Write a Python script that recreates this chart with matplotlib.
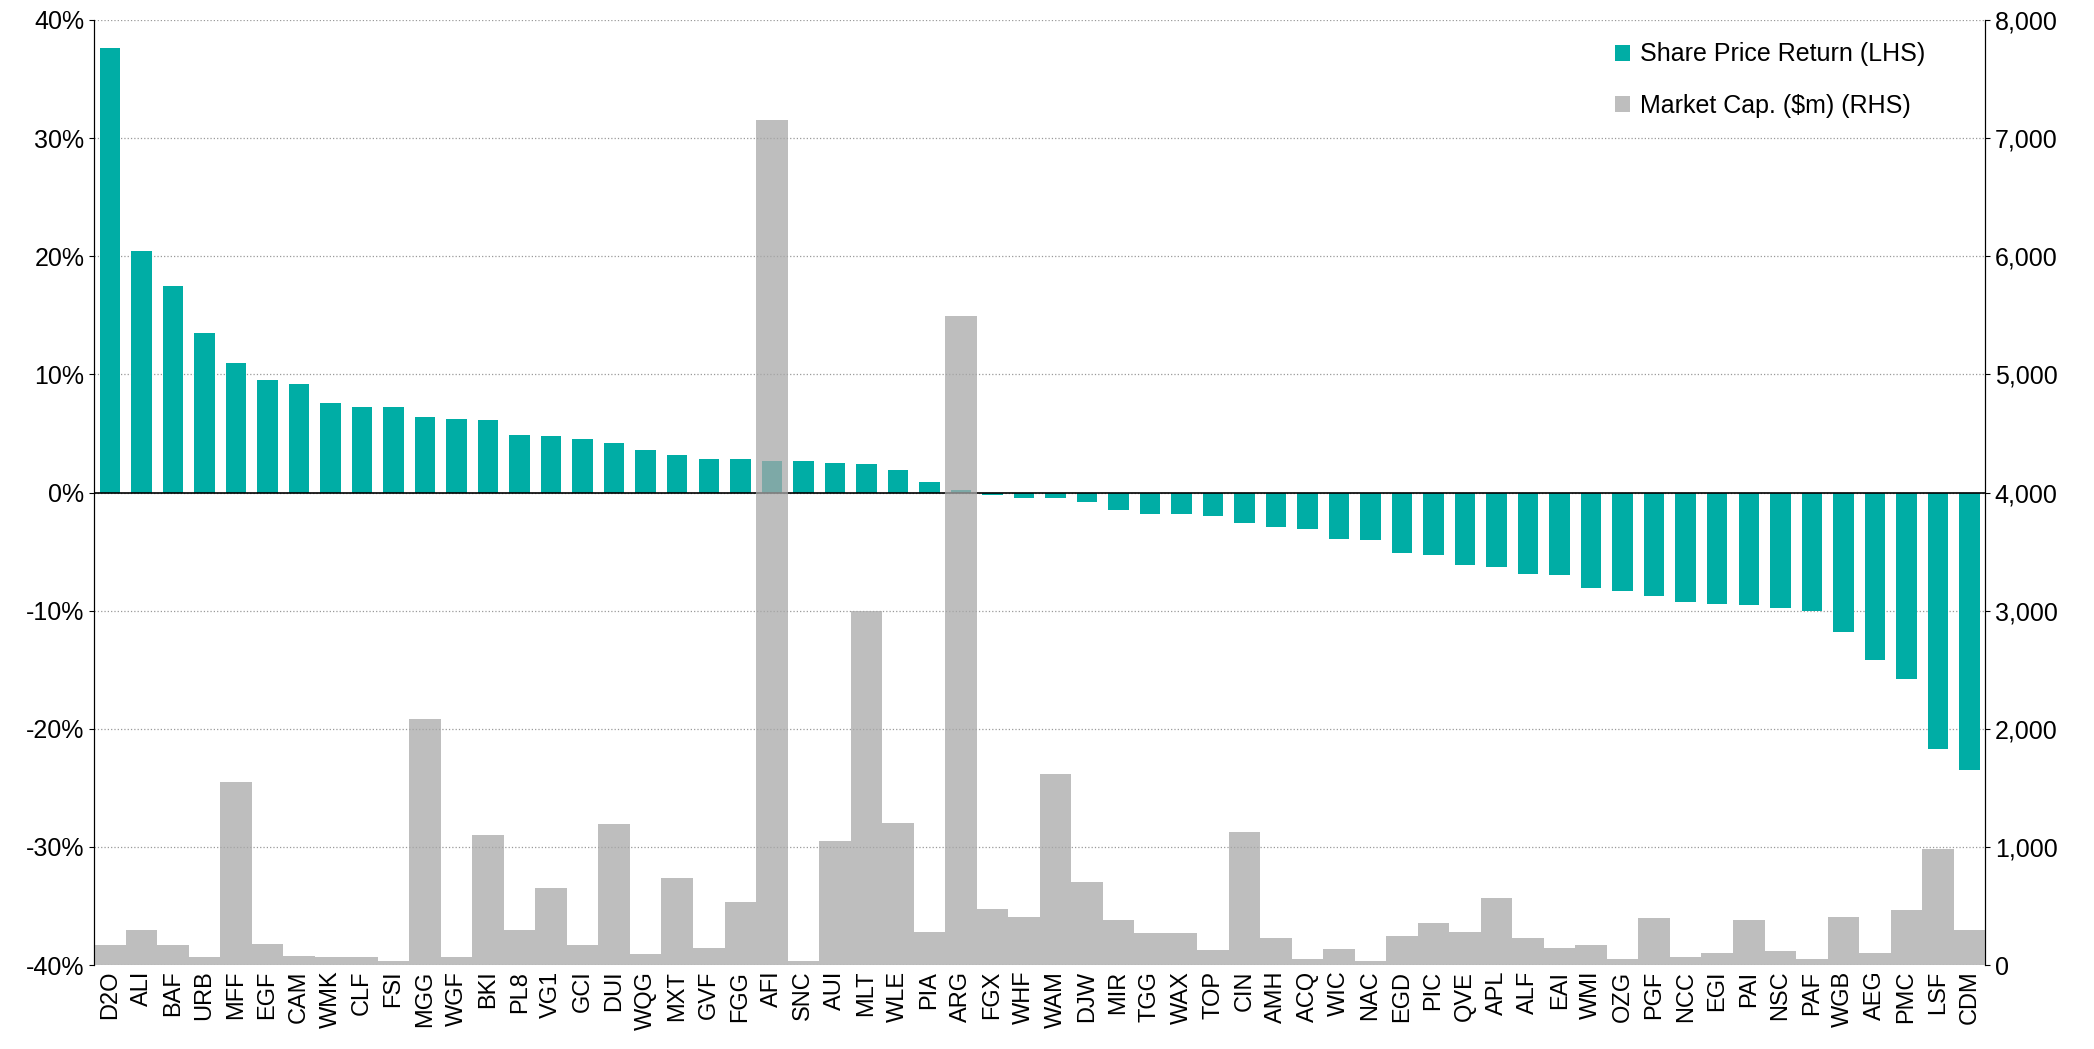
import numpy as np
import matplotlib.pyplot as plt
from matplotlib.ticker import FuncFormatter

plt.rcParams['font.family'] = ['Liberation Sans', 'DejaVu Sans']

tickers = ["D2O", "ALI", "BAF", "URB", "MFF", "EGF", "CAM", "WMK", "CLF", "FSI",
           "MGG", "WGF", "BKI", "PL8", "VG1", "GCI", "DUI", "WQG", "MXT", "GVF",
           "FGG", "AFI", "SNC", "AUI", "MLT", "WLE", "PIA", "ARG", "FGX", "WHF",
           "WAM", "DJW", "MIR", "TGG", "WAX", "TOP", "CIN", "AMH", "ACQ", "WIC",
           "NAC", "EGD", "PIC", "QVE", "APL", "ALF", "EAI", "WMI", "OZG", "PGF",
           "NCC", "EGI", "PAI", "NSC", "PAF", "WGB", "AEG", "PMC", "LSF", "CDM"]
share_return = [37.6, 20.4, 17.5, 13.5, 11.0, 9.5, 9.2, 7.6, 7.2, 7.2,
                6.4, 6.2, 6.1, 4.9, 4.8, 4.5, 4.2, 3.6, 3.2, 2.8,
                2.8, 2.7, 2.7, 2.5, 2.4, 1.9, 0.9, 0.2, -0.2, -0.5,
                -0.5, -0.8, -1.5, -1.8, -1.8, -2.0, -2.6, -2.9, -3.1, -3.9,
                -4.0, -5.1, -5.3, -6.1, -6.3, -6.9, -7.0, -8.1, -8.3, -8.8,
                -9.3, -9.4, -9.5, -9.8, -10.0, -11.8, -14.2, -15.8, -21.7, -23.5]
market_cap = [170, 295, 170, 70, 1550, 180, 80, 70, 70, 35,
              2080, 70, 1100, 295, 655, 170, 1190, 90, 735, 145,
              530, 7150, 35, 1050, 3000, 1200, 280, 5490, 475, 405,
              1620, 700, 385, 270, 270, 125, 1130, 225, 55, 135,
              35, 250, 360, 280, 565, 225, 145, 170, 55, 395,
              70, 100, 385, 115, 55, 405, 100, 465, 985, 295]

x = np.arange(len(tickers))
fig, ax = plt.subplots(figsize=(20.94, 10.49), dpi=100)
fig.subplots_adjust(left=0.045, right=0.948, top=0.981, bottom=0.080)

ax.bar(x, share_return, width=0.65, color="#00ADA5", label="Share Price Return (LHS)", zorder=2)
ax.axhline(0, color="black", lw=1.2, zorder=3)
ax.set_ylim(-40, 40)
ax.set_yticks(np.arange(-40, 41, 10))
ax.yaxis.set_major_formatter(FuncFormatter(lambda v, p: f"{v:.0f}%"))
ax.grid(axis="y", ls=":", color="#999999", lw=0.9, zorder=0)
ax.set_xlim(-0.5, len(tickers) - 0.5)
ax.set_xticks(x)
ax.set_xticklabels(tickers, rotation=90, fontsize=17)
ax.tick_params(axis="x", length=0, pad=4)
ax.tick_params(axis="y", labelsize=18)

ax2 = ax.twinx()
ax2.bar(x, market_cap, width=1.0, color="#a8a8a8", alpha=0.75, label="Market Cap. ($m) (RHS)")
ax2.set_ylim(0, 8000)
ax2.set_yticks(np.arange(0, 8001, 1000))
ax2.yaxis.set_major_formatter(FuncFormatter(lambda v, p: f"{v:,.0f}"))
ax2.tick_params(axis="y", labelsize=18)

for a in (ax, ax2):
    a.spines["top"].set_visible(False)
    a.spines["bottom"].set_visible(False)

h1, l1 = ax.get_legend_handles_labels()
h2, l2 = ax2.get_legend_handles_labels()
ax2.legend(h1 + h2, l1 + l2, loc="upper right", bbox_to_anchor=(0.98, 1.0), frameon=False,
           fontsize=18, handlelength=0.6, handleheight=0.6, handletextpad=0.4, labelspacing=1.1)

fig.savefig("out.png")
